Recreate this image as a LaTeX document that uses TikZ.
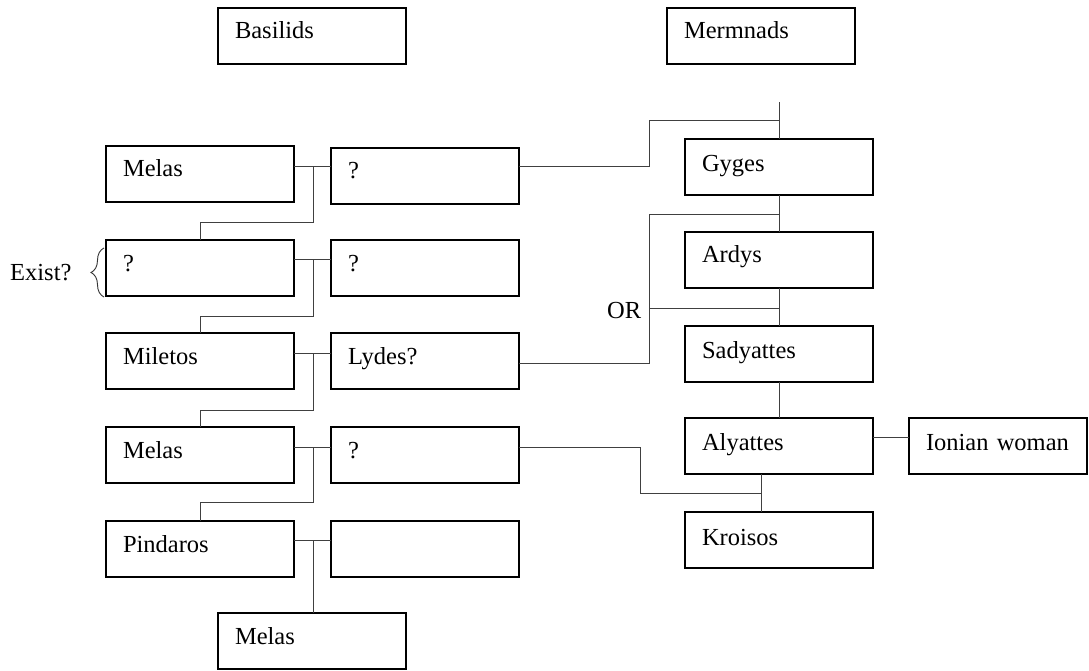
\documentclass[tikz,border=0pt]{standalone}
\usepackage{fontspec}
\setmainfont{Liberation Serif}
\usetikzlibrary{decorations.pathreplacing}
\begin{document}
\begin{tikzpicture}[x=1pt,y=-1pt,
  box/.style={draw=black, line width=1.9pt, rectangle, anchor=north west, outer sep=0pt,
    inner xsep=17pt, inner ysep=0pt, text width=154pt, text height=31pt, text depth=25pt,
    align=left, font=\fontsize{24.5}{28}\selectfont},
  rbox/.style={box, text height=32pt, text depth=24pt},
  narrowbox/.style={rbox, text width=144pt},
  conn/.style={draw=black!75, line width=1pt},
  lbl/.style={font=\fontsize{24.5}{28}\selectfont, inner sep=0pt}]
\useasboundingbox (0,0) rectangle (1089,671);
% column headers
\node[box] (basilids) at (218,8) {Basilids};
\node[box] (mermnads) at (667,8) {Mermnads};
% Basilids
\node[box] (melas1) at (106,146) {Melas};
\node[box] (q1) at (331,148) {?};
\node[box] (qL) at (106,240) {?};
\node[box] (q2) at (331,240) {?};
\node[box] (miletos) at (106,333) {Miletos};
\node[box] (lydes) at (331,333) {Lydes?};
\node[box] (melas2) at (106,427) {Melas};
\node[box] (q3) at (331,427) {?};
\node[box] (pindaros) at (106,521) {Pindaros};
\node[box] (empty) at (331,521) {};
\node[box] (melas3) at (218,613) {Melas};
% Mermnads
\node[rbox, text height=33pt, text depth=23pt] (gyges) at (685,139) {Gyges};
\node[rbox, text height=30pt, text depth=26pt] (ardys) at (685,232) {Ardys};
\node[rbox] (sadyattes) at (685,326) {Sadyattes};
\node[rbox] (alyattes) at (685,418) {Alyattes};
\node[rbox, text height=33pt, text depth=23pt] (kroisos) at (685,512) {Kroisos};
\node[narrowbox] (ionian) at (909,418) {\mbox{Ionian woman}};
% labels
\node[lbl, anchor=base west] (exist) at (10,280) {Exist?};
\node[lbl, anchor=base west] (orlbl) at (607,318) {OR};
\draw[black!80, line width=0.9pt, decorate, decoration={brace, amplitude=13pt, aspect=0.5}]
  (104,297) -- (104,248);
% junction coordinates
\coordinate (a1) at (313,167);
\coordinate (a2) at (313,259);
\coordinate (a3) at (313,353);
\coordinate (a4) at (313,447);
\coordinate (a5) at (313,540);
\coordinate (b1) at (649,121);
\coordinate (b2) at (649,214);
\coordinate (c3) at (649,363);
\coordinate (or1) at (649,308);
\coordinate (e1) at (779,437);
\coordinate (k1) at (761,493);
\coordinate (k2) at (640,493);
% Basilid couples and descents
\draw[conn] (melas1.east|-a1) -- (q1.west|-a1);
\draw[conn] (a1) -- ++(0,55) -| (qL.north);
\draw[conn] (qL.east|-a2) -- (q2.west|-a2);
\draw[conn] (a2) -- ++(0,57) -| (miletos.north);
\draw[conn] (miletos.east|-a3) -- (lydes.west|-a3);
\draw[conn] (a3) -- ++(0,57) -| (melas2.north);
\draw[conn] (melas2.east|-a4) -- (q3.west|-a4);
\draw[conn] (a4) -- ++(0,55) -| (pindaros.north);
\draw[conn] (pindaros.east|-a5) -- (empty.west|-a5);
\draw[conn] (a5) -- (a5|-melas3.north);
% Mermnad line
\draw[conn] (gyges.north) -- ++(0,-37);
\draw[conn] (q1.east|-a1) -| (b1) -- (b1-|gyges.north);
\draw[conn] (gyges.south) -- (ardys.north);
\draw[conn] (lydes.east|-c3) -- (c3) -- (b2) -- (b2-|gyges.south);
\draw[conn] (or1) -- (or1-|ardys.south);
\draw[conn] (ardys.south) -- (sadyattes.north);
\draw[conn] (sadyattes.south) -- (alyattes.north);
\draw[conn] (alyattes.east|-e1) -- (ionian.west|-e1);
\draw[conn] (k1|-alyattes.south) -- (k1|-kroisos.north);
\draw[conn] (q3.east|-a4) -| (k2) -- (k1);
\end{tikzpicture}
\end{document}
